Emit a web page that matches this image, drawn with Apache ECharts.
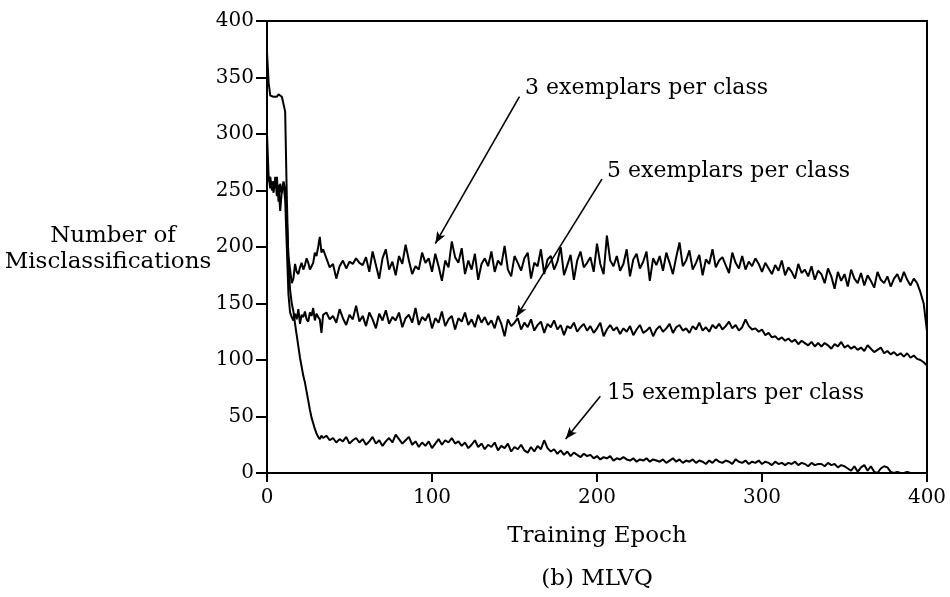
<!DOCTYPE html>
<html>
<head>
<meta charset="utf-8">
<script src="https://cdn.jsdelivr.net/npm/echarts@6/dist/echarts.min.js"></script>
<style>
  html, body { margin: 0; padding: 0; background: #fff; }
  #mlvq { width: 950px; height: 597px; }
</style>
</head>
<body>
<div id="mlvq"></div>
<script>
// epochs: every epoch up to 34, then every second epoch up to 400
var epochs = [];
for (var e = 0; e <= 34; e++) epochs.push(e);
for (var e2 = 36; e2 <= 400; e2 += 2) epochs.push(e2);

var xTicks = [0, 100, 200, 300, 400];
var yTicks = [0, 50, 100, 150, 200, 250, 300, 350, 400];

// 3 exemplars per class
var ex3 = [
  275, 258, 262, 250, 258, 255, 262, 240, 256, 248, 258, 252, 225, 192, 180, 168, 172, 185, 178, 176,
  182, 186, 180, 184, 190, 186, 180, 183, 186, 195, 192, 200, 209, 195, 198,
  190, 182, 185, 172, 183, 188, 181, 187, 185, 190,
  186, 184, 191, 178, 196, 184, 172, 190, 198, 180,
  187, 175, 192, 185, 202, 188, 176, 183, 180, 195,
  186, 190, 178, 194, 183, 170, 188, 182, 205, 191,
  186, 199, 176, 188, 180, 194, 171, 185, 190, 183,
  196, 178, 188, 184, 201, 180, 174, 192, 186, 179,
  190, 195, 172, 186, 183, 198, 176, 189, 192, 180,
  187, 200, 175, 184, 193, 171, 188, 196, 182, 186,
  191, 178, 203, 185, 176, 210, 188, 183, 192, 179,
  185, 198, 174, 189, 194, 181, 187, 196, 170, 190,
  184, 192, 179, 195, 186, 176, 191, 204, 183, 188,
  197, 180, 186, 193, 175, 189, 185, 198, 182, 188,
  191, 184, 177, 195, 186, 181, 192, 180, 187, 183,
  190, 185, 178, 186, 181, 176, 184, 179, 188, 175,
  182, 178, 172, 185, 177, 180, 174, 183, 171, 179,
  176, 168, 181, 174, 163, 178, 170, 176, 165, 180,
  172, 168, 177, 166, 175, 170, 164, 178, 171, 168,
  174, 165, 172, 176, 169, 178, 171, 166, 172, 168,
  160, 150, 125
];

// 5 exemplars per class
var ex5 = [
  300, 262, 252, 258, 248, 262, 245, 255, 232, 250, 256, 242, 200, 158, 142, 138, 135, 141, 136, 145,
  132, 140, 138, 143, 136, 134, 142, 139, 146, 135, 141, 138, 136, 124, 140,
  142, 136, 139, 133, 145, 137, 131, 140, 136, 148,
  134, 139, 130, 142, 136, 128, 141, 135, 144, 132,
  138, 135, 142, 129, 137, 140, 133, 146, 131, 138,
  135, 141, 128, 137, 133, 143, 130, 136, 139, 127,
  137, 134, 142, 131, 136, 129, 140, 133, 138, 131,
  135, 128, 139, 132, 121, 136, 130, 133, 137, 127,
  133, 129, 136, 126, 131, 134, 124, 132, 129, 135,
  127, 131, 122, 130, 128, 133, 125, 129, 132, 126,
  130, 124, 128, 133, 121, 127, 131, 126, 129, 123,
  128, 125, 130, 122, 127, 131, 124, 126, 129, 121,
  127, 130, 125, 128, 132, 124, 129, 131, 126, 128,
  124, 130, 127, 133, 126, 129, 125, 131, 128, 132,
  127, 130, 134, 128, 131, 126, 129, 136, 130, 127,
  128, 125, 127, 122, 124, 120, 121, 118, 120, 117,
  119, 116, 118, 114, 117, 115, 113, 116, 112, 115,
  112, 115, 113, 110, 114, 112, 116, 111, 113, 110,
  112, 109, 111, 108, 113, 110, 107, 109, 111, 106,
  108, 105, 107, 104, 106, 103, 106, 102, 104, 101,
  100, 98, 95
];

// 15 exemplars per class
var ex15 = [
  372, 345, 334, 335, 333, 334, 333, 335, 334, 333, 332, 320, 245, 185, 162, 150, 143, 132, 122, 112,
  102, 94, 86, 80, 72, 64, 56, 49, 44, 39, 35, 32, 30, 33, 31,
  33, 29, 31, 27, 30, 28, 32, 26, 29, 31,
  27, 30, 25, 28, 32, 26, 29, 24, 28, 31,
  27, 34, 30, 26, 29, 32, 25, 28, 23, 27,
  24, 28, 22, 26, 30, 25, 29, 27, 31, 26,
  28, 24, 27, 22, 25, 29, 23, 26, 21, 25,
  23, 27, 20, 24, 22, 26, 19, 23, 21, 25,
  20, 18, 23, 19, 24, 21, 29, 22, 19, 21,
  17, 20, 16, 19, 15, 18, 16, 14, 17, 15,
  16, 13, 15, 12, 14, 13, 15, 11, 13, 12,
  14, 12, 11, 13, 10, 12, 11, 13, 10, 12,
  11, 10, 12, 9, 11, 13, 10, 12, 9, 11,
  10, 12, 9, 11, 10, 8, 11, 9, 12, 10,
  9, 11, 10, 8, 12, 10, 9, 11, 8, 10,
  9, 11, 8, 10, 9, 7, 10, 8, 9, 7,
  9, 8, 10, 7, 9, 8, 6, 9, 7, 8,
  8, 6, 9, 7, 8, 5, 7, 6, 4, 2,
  6, 1, 5, 7, 2, 6, 1, 0, 4, 6,
  5, 1, 0, 1, 0, 0, 1, 0, 0, 0,
  0, 0, 0
];

function pairs(vals) {
  var out = [];
  for (var i = 0; i < vals.length; i++) out.push([epochs[i], vals[i]]);
  return out;
}

var serif = 'DejaVu Serif';
var ink = '#000';
var noteFont = '22px "DejaVu Serif"';
var nameFont = '23px "DejaVu Serif"';

function label(txt, x, y, font, align) {
    return {
        type: 'text', x: x, y: y,
        style: { text: txt, font: font, fill: ink, align: align || 'left', verticalAlign: 'middle' }
    };
}

var myChart = echarts.init(document.getElementById('mlvq'));
var option = {
    animation: false,
    backgroundColor: '#fff',
    grid: {
        left: 267,
        right: 23,
        top: 21,
        bottom: 124,
        show: true,
        borderColor: ink,
        borderWidth: 2
    },
    xAxis: {
        type: 'value',
        min: xTicks[0],
        max: xTicks[xTicks.length - 1],
        interval: 100,
        axisLine: { lineStyle: { color: ink, width: 2 } },
        axisTick: { inside: false, length: 9, lineStyle: { color: ink, width: 2 } },
        axisLabel: { color: ink, fontFamily: serif, fontSize: 20, margin: 15 },
        splitLine: { show: false }
    },
    yAxis: {
        type: 'value',
        min: yTicks[0],
        max: yTicks[yTicks.length - 1],
        interval: 50,
        axisLine: { lineStyle: { color: ink, width: 2 } },
        axisTick: { inside: false, length: 11, lineStyle: { color: ink, width: 2 } },
        axisLabel: { color: ink, fontFamily: serif, fontSize: 20, margin: 13 },
        splitLine: { show: false }
    },
    graphic: [
        label('3 exemplars per class', 525, 88, noteFont),
        label('5 exemplars per class', 607, 171, noteFont),
        label('15 exemplars per class', 607, 393, noteFont),
        label('Number of', 113, 236, nameFont, 'center'),
        label('Misclassifications', 108, 262, nameFont, 'center'),
        label('Training Epoch', 597, 536, nameFont, 'center'),
        label('(b) MLVQ', 597, 579, nameFont, 'center')
    ],
    series: [
        {
            name: '3 exemplars per class',
            type: 'line',
            data: pairs(ex3),
            showSymbol: false,
            lineStyle: { color: ink, width: 2 },
            markLine: {
                silent: true,
                symbol: ['none', 'arrow'],
                symbolSize: [7, 12],
                label: { show: false },
                lineStyle: { color: ink, width: 1.6, type: 'solid' },
                data: [
                    [{ coord: [153, 333] }, { coord: [102, 203] }],
                    [{ coord: [203, 260] }, { coord: [151, 138] }],
                    [{ coord: [202, 68] }, { coord: [181, 30] }]
                ]
            }
        },
        {
            name: '5 exemplars per class',
            type: 'line',
            data: pairs(ex5),
            showSymbol: false,
            lineStyle: { color: ink, width: 2 }
        },
        {
            name: '15 exemplars per class',
            type: 'line',
            data: pairs(ex15),
            showSymbol: false,
            lineStyle: { color: ink, width: 2 }
        }
    ]
};
myChart.setOption(option);
</script>
</body>
</html>
